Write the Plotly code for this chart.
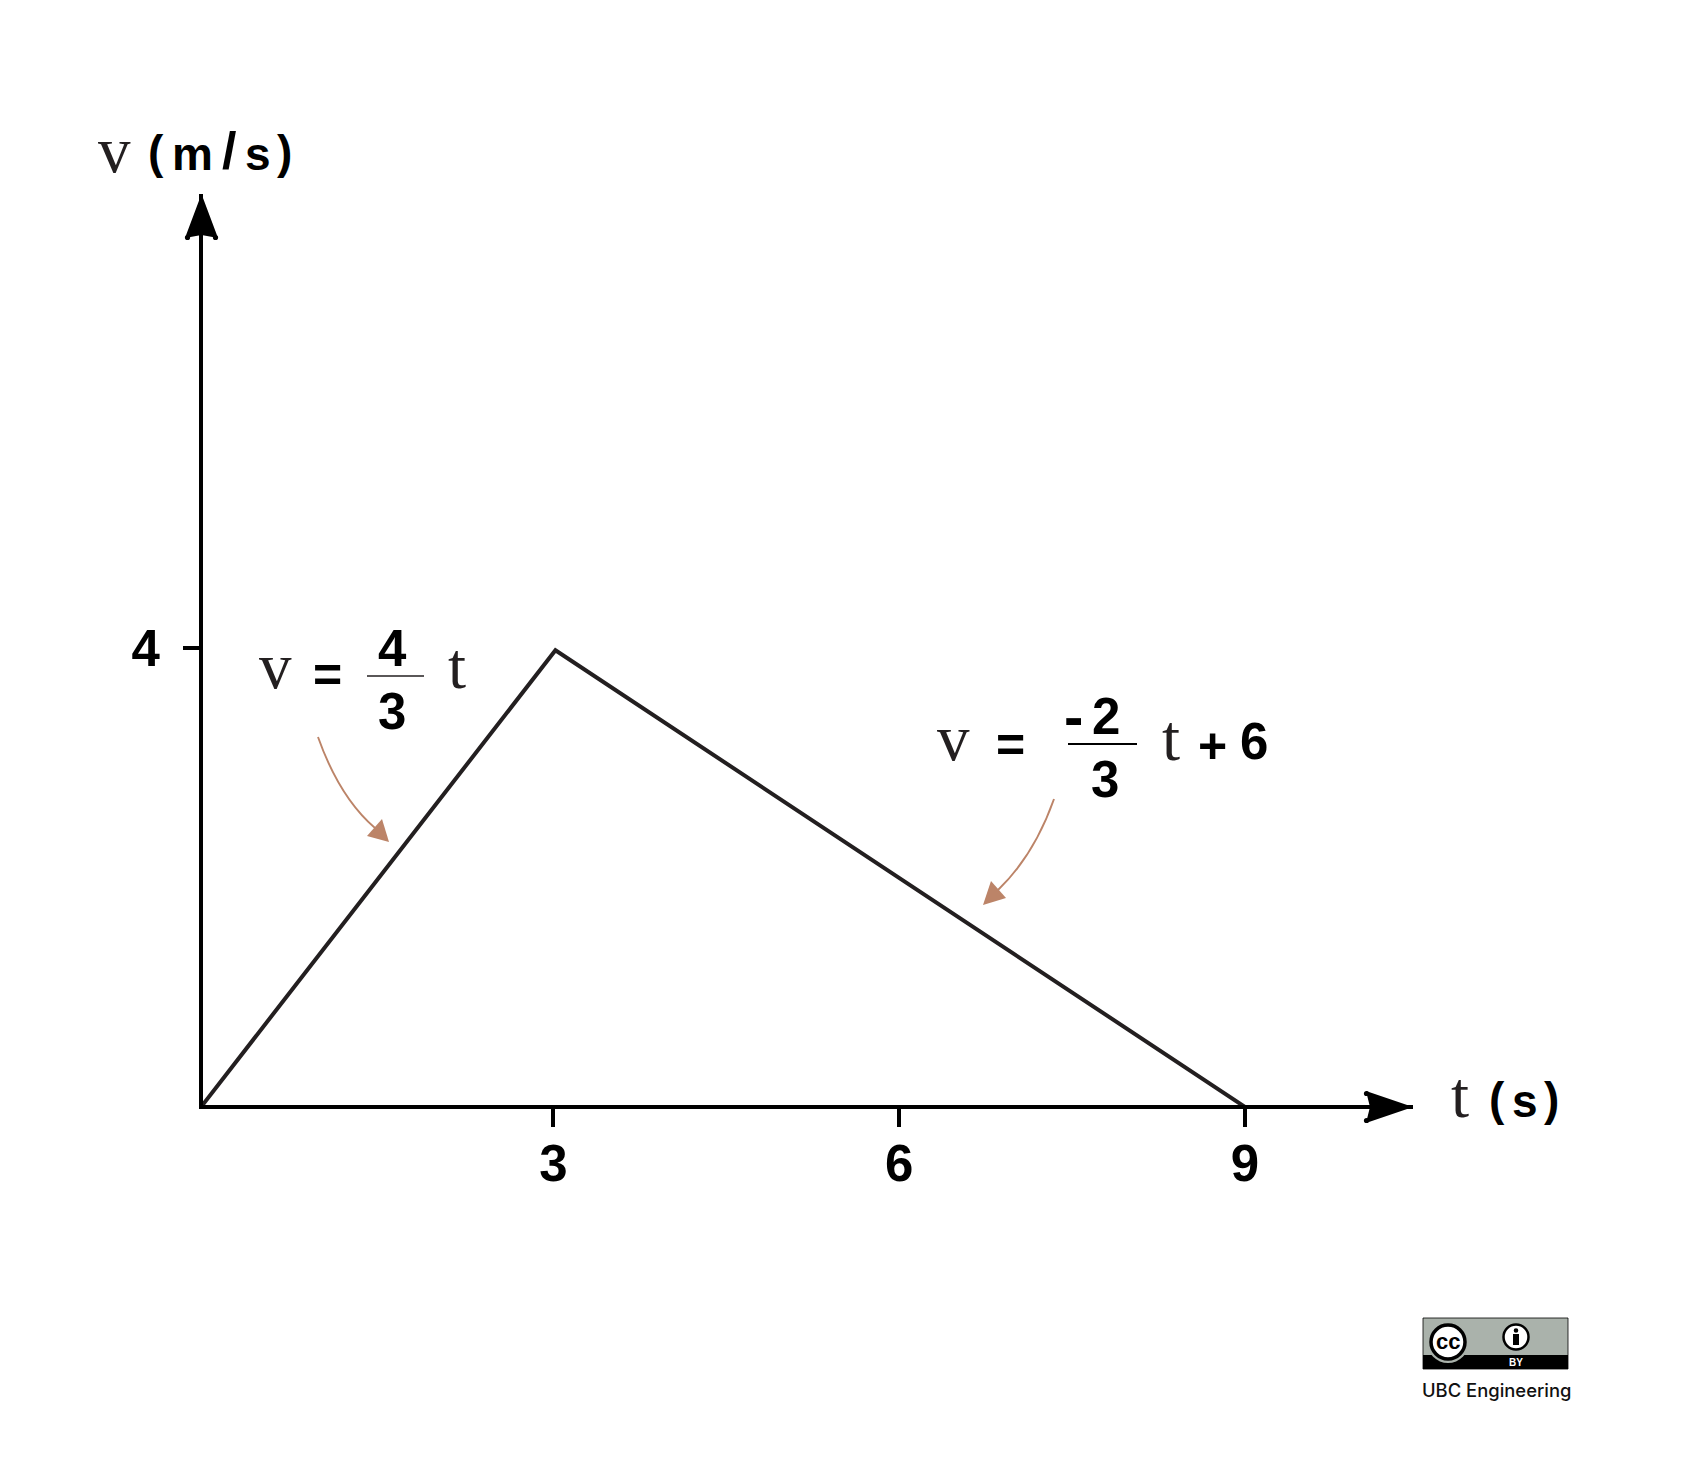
import plotly.graph_objects as go

W, H = 1705, 1466
L, R, T, B = 203, 1413, 194, 1105

t_vals = [-0.058, 3.017, 9]
v_vals = [0, 3.98, 0]
x_ticks = [3, 6, 9]
y_ticks = [4]
x_range = [-0.041, 10.458]
y_range = [0.017, 7.956]

INK = "#231f20"
BROWN = "#bc8468"
SANS = "Liberation Sans"
SERIF = "Liberation Serif"


def px(x):
    return (x - L) / (R - L)


def py(y):
    return (B - y) / (B - T)


def path(points, close=True):
    s = "M " + " L ".join(f"{px(x):.5f} {py(y):.5f}" for x, y in points)
    return s + (" Z" if close else "")


def qpath(a, c, b):
    return f"M {px(a[0]):.5f} {py(a[1]):.5f} Q {px(c[0]):.5f} {py(c[1]):.5f} {px(b[0]):.5f} {py(b[1]):.5f}"


shapes = []
annotations = []


def shape(kind, **kw):
    shapes.append(dict(type=kind, xref="paper", yref="paper", layer="above", **kw))


def poly(points, fill, stroke=None, width=0):
    shape("path", path=path(points), fillcolor=fill,
          line=dict(color=stroke or fill, width=width))


def segment(x0, y0, x1, y1, color, width):
    shape("line", x0=px(x0), y0=py(y0), x1=px(x1), y1=py(y1), line=dict(color=color, width=width))


def curve(a, c, b):
    shape("path", path=qpath(a, c, b), line=dict(color=BROWN, width=1.9))


def circle(cx, cy, r, fill, stroke, width):
    shape("circle", x0=px(cx - r), x1=px(cx + r), y0=py(cy + r), y1=py(cy - r),
          fillcolor=fill, line=dict(color=stroke, width=width))


def label(x, y, text, size, family=SANS, color="#000000", bold=False, anchor="left", weight=None):
    font = dict(size=size, family=family, color=color)
    if weight:
        font["weight"] = weight
    annotations.append(dict(
        x=px(x), y=py(y), xref="paper", yref="paper", text=f"<b>{text}</b>" if bold else text,
        showarrow=False, xanchor=anchor, yanchor="middle",
        font=font, borderpad=0, borderwidth=0))


# axis arrowheads
poly([(201.5, 194), (185, 238), (201.5, 235), (218, 238)], "#000000")
circle(187.5, 237.5, 2.6, "#000000", "#000000", 0)
circle(215.5, 237.5, 2.6, "#000000", "#000000", 0)
poly([(1413, 1107), (1366, 1091), (1370, 1107), (1366, 1123)], "#000000")
circle(1366.5, 1093.5, 2.6, "#000000", "#000000", 0)
circle(1366.5, 1120.5, 2.6, "#000000", "#000000", 0)

# axis titles
label(98, 150, "v", 65, SERIF, INK)
label(148, 152, "(", 46, bold=True)
label(172, 154, "m", 46, bold=True)
label(222, 151, "/", 52, bold=True)
label(245, 154, "s", 46, bold=True)
label(277, 152, ")", 46, bold=True)
label(1451, 1095, "t", 65, SERIF, INK)
label(1489, 1099, "(", 46, bold=True)
label(1512, 1101, "s", 46, bold=True)
label(1544, 1099, ")", 46, bold=True)

# first equation
label(259, 666, "v", 65, SERIF, INK)
label(327, 675, "=", 50, bold=True, anchor="center")
label(392, 648, "4", 51, bold=True, anchor="center")
segment(367, 676, 424, 676, INK, 1.5)
label(392, 711, "3", 51, bold=True, anchor="center")
label(448, 666, "t", 65, SERIF, INK)
curve((318, 737), (339.5, 797.5), (375, 828))
poly([(389, 842), (382, 819), (367, 836)], BROWN)

# second equation
label(937, 738, "v", 65, SERIF, INK)
label(1010, 745, "=", 50, bold=True, anchor="center")
label(1073, 716, "-", 58, bold=True, anchor="center")
label(1106, 716, "2", 51, bold=True, anchor="center")
segment(1068, 744, 1137, 744, "#000000", 2)
label(1105, 779, "3", 51, bold=True, anchor="center")
label(1162, 738, "t", 65, SERIF, INK)
label(1212, 746, "+", 50, bold=True, anchor="center")
label(1254, 741, "6", 51, bold=True, anchor="center")
curve((1054, 799), (1034, 855.5), (998, 890))
poly([(983, 905), (991, 881), (1006, 898)], BROWN)

# licence badge
shape("rect", x0=px(1423), x1=px(1568), y0=py(1369), y1=py(1318),
      fillcolor="#aab2ab", line=dict(color="#000000", width=0.8))
shape("rect", x0=px(1423), x1=px(1568), y0=py(1369), y1=py(1355),
      fillcolor="#000000", line=dict(color="#000000", width=0))
circle(1448, 1342, 21, "#aab2ab", "#aab2ab", 0)
circle(1448, 1342, 17, "#ffffff", "#000000", 3.5)
label(1448, 1341, "cc", 22, bold=True, anchor="center")
circle(1516, 1337, 12.5, "#ffffff", "#000000", 2.5)
circle(1516, 1330.5, 2.3, "#000000", "#000000", 0)
shape("rect", x0=px(1513), x1=px(1519), y0=py(1345), y1=py(1334),
      fillcolor="#000000", line=dict(color="#000000", width=0))
label(1516, 1362, "BY", 10, color="#ffffff", bold=True, anchor="center")
label(1422, 1390, "UBC Engineering", 18.4, "Inter", "#111111", weight=500)

fig = go.Figure(go.Scatter(
    x=t_vals, y=v_vals, mode="lines", cliponaxis=False,
    line=dict(color=INK, width=4, shape="linear"), hoverinfo="skip"))

axis_common = dict(
    showgrid=False, zeroline=False, showline=True, linecolor="#000000", linewidth=4,
    ticks="outside", tickcolor="#000000", tickwidth=3.6,
    tickfont=dict(family=SANS, size=51, color="#000000", weight="bold"),
    fixedrange=True, tickmode="array")

fig.update_layout(
    width=W, height=H,
    margin=dict(l=L, r=W - R, t=T, b=H - B, pad=0),
    paper_bgcolor="#ffffff", plot_bgcolor="#ffffff", showlegend=False,
    xaxis=dict(range=x_range, tickvals=x_ticks, ticktext=[str(v) for v in x_ticks],
               ticklen=18, ticklabelstandoff=-7, **axis_common),
    yaxis=dict(range=y_range, tickvals=y_ticks, ticktext=[str(v) for v in y_ticks],
               ticklen=16, ticklabelstandoff=13, **axis_common),
    shapes=shapes, annotations=annotations)

fig.write_html("out.html", config=dict(displayModeBar=False),
               post_script="document.body.style.margin='0';")
